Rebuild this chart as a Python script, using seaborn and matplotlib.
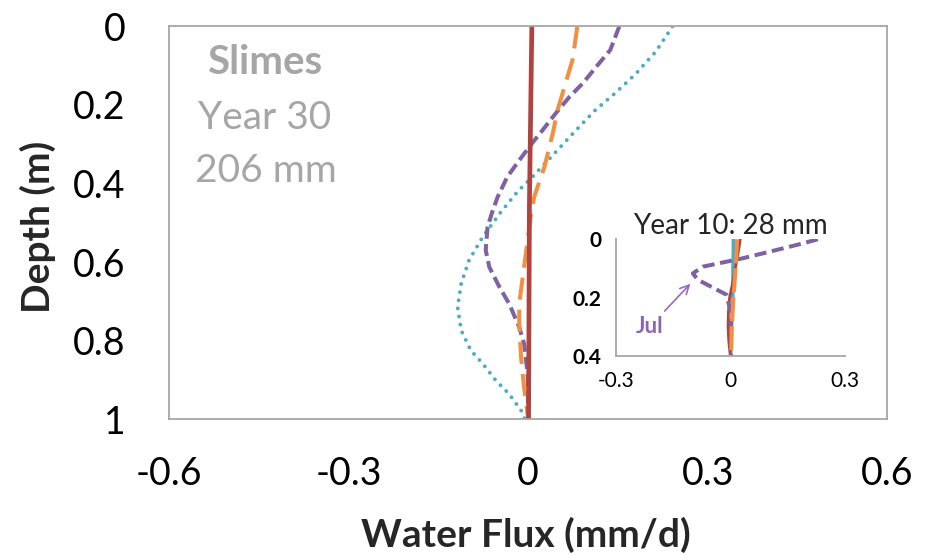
import matplotlib
matplotlib.use("Agg")
import matplotlib.pyplot as plt
import seaborn as sns

# ---------------- data (main panel: Year 30) ----------------
depth_teal = [0, 0.064, 0.12, 0.17, 0.213, 0.272, 0.328, 0.383, 0.421, 0.477, 0.536,
              0.596, 0.655, 0.715, 0.774, 0.825, 0.859, 0.902, 0.936, 0.978, 1.0]
flux_teal = [0.241, 0.213, 0.18, 0.145, 0.112, 0.075, 0.041, 0.007, -0.018, -0.048, -0.076,
             -0.099, -0.112, -0.118, -0.112, -0.096, -0.076, -0.054, -0.032, -0.012, -0.006]

depth_purple = [0, 0.06, 0.10, 0.145, 0.179, 0.221, 0.264, 0.302, 0.341, 0.383, 0.434,
                0.472, 0.511, 0.57, 0.613, 0.664, 0.706, 0.766, 0.808, 0.885, 1.0]
flux_purple = [0.152, 0.137, 0.115, 0.091, 0.069, 0.046, 0.024, 0.004, -0.015, -0.035, -0.051,
               -0.060, -0.068, -0.071, -0.065, -0.048, -0.032, -0.015, -0.007, -0.001, 0.0]

depth_orange = [0, 0.085, 0.141, 0.213, 0.272, 0.358, 0.434, 0.485, 0.545, 0.613, 0.706,
                0.76, 0.842, 0.919, 1.0]
flux_orange = [0.082, 0.074, 0.063, 0.049, 0.041, 0.027, 0.010, 0.004, -0.001, -0.007, -0.015,
               -0.015, -0.012, -0.007, 0.0]

depth_red = [0, 0.45, 1.0]
flux_red = [0.006, 0.002, 0.0005]

# ---------------- data (inset: Year 10) ----------------
in_depth_purple = [0, 0.014, 0.037, 0.065, 0.094, 0.117, 0.139, 0.19, 0.25, 0.4]
in_flux_purple = [0.229, 0.19, 0.12, 0.033, -0.072, -0.098, -0.085, -0.01, 0.001, 0.002]
in_depth = [0, 0.05, 0.1, 0.15, 0.2, 0.25, 0.3, 0.35, 0.4]
in_flux_red = [0.026, 0.02, 0.013, 0.006, -0.002, -0.005, -0.006, -0.004, 0.0]
in_flux_teal = [0.008, 0.008, 0.007, 0.007, 0.006, 0.005, 0.003, 0.002, 0.001]
in_flux_orange = [0.018, 0.016, 0.014, 0.011, 0.008, 0.006, 0.004, 0.003, 0.002]

x_ticks = [-0.6, -0.3, 0, 0.3, 0.6]
x_ticklabels = ["-0.6", "-0.3", "0", "0.3", "0.6"]
y_ticks = [0, 0.2, 0.4, 0.6, 0.8, 1.0]
y_ticklabels = ["0", "0.2", "0.4", "0.6", "0.8", "1"]
in_x_ticks = [-0.3, -0.2, -0.1, 0, 0.1, 0.2, 0.3]
in_x_ticklabels = ["-0.3", "", "", "0", "", "", "0.3"]
in_y_ticks = [0, 0.1, 0.2, 0.3, 0.4]
in_y_ticklabels = ["0", "", "0.2", "", "0.4"]

# ---------------- style ----------------
sns.set_style("white")
plt.rcParams["font.family"] = ["Lato", "DejaVu Sans"]

TEAL = "#4BACC6"
PURPLE = "#7F62A1"
ORANGE = "#F38F42"
RED = "#B0433F"
SPINE = "#A6A6A6"
GRAY_TXT = "#A6A6A6"

fig = plt.figure(figsize=(9.3, 5.55), dpi=100)
ax = fig.add_axes([0.1817, 0.245, 0.7726, 0.7073])

sns.lineplot(x=flux_teal, y=depth_teal, sort=False, estimator=None, ax=ax, color=TEAL,
             lw=2.8, linestyle=(0, (0.01, 2.1)), dash_capstyle="round")
sns.lineplot(x=flux_purple, y=depth_purple, sort=False, estimator=None, ax=ax, color=PURPLE,
             lw=2.9, linestyle=(0, (3.0, 1.3)))
sns.lineplot(x=flux_orange, y=depth_orange, sort=False, estimator=None, ax=ax, color=ORANGE,
             lw=2.9, linestyle=(0, (5.5, 2.5)))
sns.lineplot(x=flux_red, y=depth_red, sort=False, estimator=None, ax=ax, color=RED, lw=3.4)

ax.set_xlim(-0.6, 0.6)
ax.set_ylim(1, 0)
ax.set_xticks(x_ticks)
ax.set_xticklabels(x_ticklabels)
ax.set_yticks(y_ticks)
ax.set_yticklabels(y_ticklabels)
ax.tick_params(axis="both", which="major", direction="out", length=9.4, width=1.2,
               color=SPINE, labelsize=27, labelcolor="black")
ax.tick_params(axis="x", pad=17)
ax.tick_params(axis="y", pad=22)
for s in ax.spines.values():
    s.set_visible(True)
    s.set_color(SPINE)
    s.set_linewidth(1.3)

ax.set_xlabel("Water Flux (mm/d)", fontsize=28, fontweight="bold")
ax.set_ylabel("Depth (m)", fontsize=28, fontweight="bold")
ax.xaxis.label.set_va("center")
ax.xaxis.set_label_coords(0.497, -0.295)
ax.yaxis.label.set_va("center")
ax.yaxis.label.set_ha("center")
ax.yaxis.set_label_coords(-0.183, 0.49)

ax.text(-0.44, 0.093, "Slimes", fontsize=29, fontweight="bold", color=GRAY_TXT,
        ha="center", va="center")
ax.text(-0.44, 0.233, "Year 30", fontsize=28, color=GRAY_TXT, ha="center", va="center")
ax.text(-0.438, 0.369, "206 mm", fontsize=28, color=GRAY_TXT, ha="center", va="center")

# ---------------- inset ----------------
axi = fig.add_axes([0.662, 0.3586, 0.2466, 0.2103])
axi.set_facecolor("white")
sns.lineplot(x=in_flux_teal, y=in_depth, sort=False, estimator=None, ax=axi, color=TEAL, lw=2.6)
sns.lineplot(x=in_flux_red, y=in_depth, sort=False, estimator=None, ax=axi, color=RED, lw=2.0)
sns.lineplot(x=in_flux_purple, y=in_depth_purple, sort=False, estimator=None, ax=axi,
             color=PURPLE, lw=2.9, linestyle=(0, (3.0, 1.4)))
sns.lineplot(x=in_flux_orange, y=in_depth, sort=False, estimator=None, ax=axi, color=ORANGE,
             lw=2.9, linestyle=(0, (6, 1.2)))
axi.set_xlim(-0.3, 0.3)
axi.set_ylim(0.4, 0)
axi.set_xticks(in_x_ticks)
axi.set_xticklabels(in_x_ticklabels)
axi.set_yticks(in_y_ticks)
axi.set_yticklabels(in_y_ticklabels, fontweight="bold")
axi.tick_params(axis="both", direction="out", length=4.5, width=1.1, color=SPINE,
                labelsize=15, labelcolor="black", pad=6)
for side in ["top", "right"]:
    axi.spines[side].set_visible(False)
for side in ["left", "bottom"]:
    axi.spines[side].set_visible(True)
    axi.spines[side].set_color(SPINE)
    axi.spines[side].set_linewidth(1.3)
axi.set_xlabel("")
axi.set_ylabel("")
axi.set_title("Year 10: 28 mm", fontsize=20, pad=4)

axi.annotate("Jul", xy=(-0.102, 0.149), xytext=(-0.211, 0.30),
             color="#8B63B8", fontsize=16, fontweight="bold", ha="center", va="center",
             arrowprops=dict(arrowstyle="->", color="#9966CC", lw=1.2,
                             shrinkA=2, shrinkB=1))

fig.savefig("out.png", dpi=100)
